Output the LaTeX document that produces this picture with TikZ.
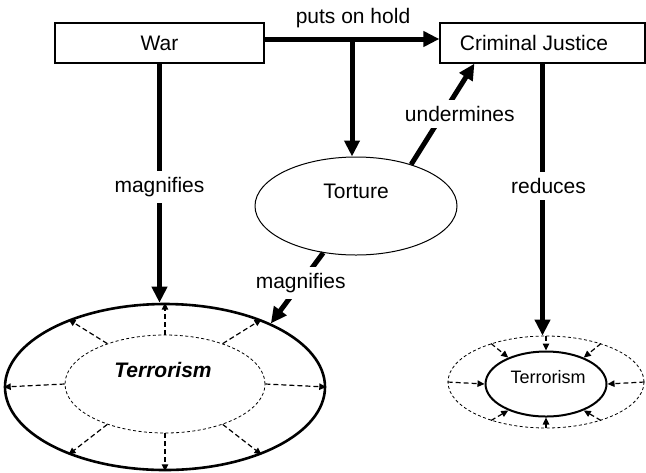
\documentclass[tikz,border=0pt]{standalone}
\usepackage{fontspec}
\setmainfont{Liberation Sans}
\usetikzlibrary{arrows.meta,shapes.geometric,calc}
\begin{document}
\begin{tikzpicture}[x=0.5pt,y=-0.5pt,
  font=\fontsize{10.5}{12}\selectfont,
  box/.style={draw, line width=0.6pt, minimum height=20pt, inner sep=0pt},
  oval/.style={ellipse, draw, inner sep=0pt},
  big/.style={line width=2.5pt, -{Triangle[length=8pt,width=7.5pt]}},
  lbl/.style={fill=white, inner sep=3pt},
  spread/.style={line width=0.6pt, dash pattern=on 2.5pt off 1.5pt, -{Triangle[length=3.5pt,width=3.2pt]}},
  txt/.style={inner sep=0pt}
]
\useasboundingbox (0,0) rectangle (646,472);

% boxes
\node[box, minimum width=104.5pt] (war) at (159.5,43) {War};
\node[box, minimum width=102.5pt] (cj) at (542.5,43) {};
\node[txt] (cjt) at (534,43) {Criminal Justice};

% torture
\node[oval, line width=0.5pt, minimum width=101pt, minimum height=49pt] (torture) at (356,206) {};
\node[txt] (tortt) at (356,191) {Torture};

% big terrorism
\node[oval, line width=1.3pt, minimum width=160pt, minimum height=83pt] (bigO) at (165,387) {};
\node[oval, line width=0.4pt, dash pattern=on 1.5pt off 1.2pt, minimum width=100pt, minimum height=49pt] (bigI) at (165,384) {};
\node[txt, font=\fontsize{10.5}{12}\selectfont\bfseries\itshape] (bigT) at (163,370) {Terrorism};

% small terrorism
\node[oval, line width=0.4pt, dash pattern=on 1.5pt off 1.2pt, minimum width=98pt, minimum height=46pt] (smallO) at (546,382) {};
\node[oval, line width=1pt, minimum width=60.5pt, minimum height=32.5pt] (smallI) at (546,384) {};
\node[txt, font=\fontsize{9}{10}\selectfont] (smallT) at (548,377) {Terrorism};

% puts on hold
\draw[big] ([yshift=2pt]war.east) -- ([yshift=2pt]cj.west);
\node[txt] (holdl) at (353,18) {puts on hold};
\coordinate (hold) at (352,39);
\draw[big] (hold) -- (hold |- torture.north);

% war magnifies
\draw[big] (war.south) -- (war.south |- bigO.north)
  node[lbl, pos=0.515] {magnifies};

% cj reduces
\draw[big] (cj.south) -- (cj.south |- smallO.north)
  node[lbl, pos=0.45, xshift=3pt] {reduces};

% torture undermines
\draw[big] (torture.37) -- ($(cj.south west)+(35,0)$)
  node[lbl, pos=0.5, xshift=8.5pt] {undermines};

% torture magnifies
\draw[big] (torture.235) -- (bigO.31)
  node[lbl, pos=0.43] {magnifies};

% spreading arrows
\foreach \a in {0,35,90,145,180,215,270,325}{
  \draw[spread] (bigI.\a) -- (bigO.\a);
  \draw[spread] (smallO.\a) -- (smallI.\a);
}
\end{tikzpicture}
\end{document}
